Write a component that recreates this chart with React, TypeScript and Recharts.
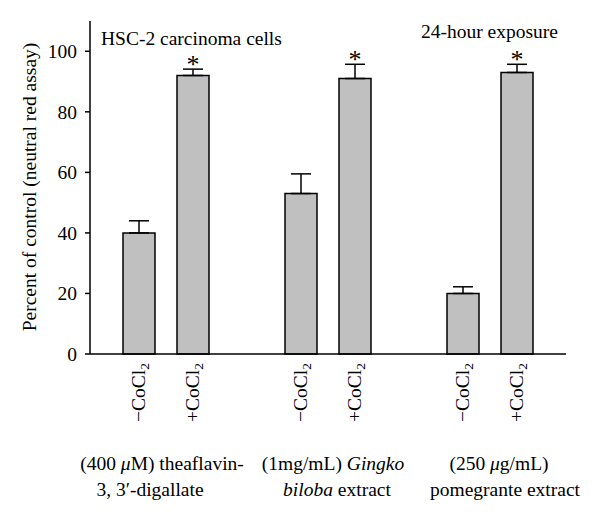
import React from "react";
import { ComposedChart, Bar, XAxis, YAxis, ErrorBar, Scatter } from "recharts";

// 8 slots on the x axis, two of them empty to split the three groups
const slots = ["tf-", "tf+", "gap1", "gb-", "gb+", "gap2", "pe-", "pe+"];
const tickSigns = ["\u2212", "+", "", "\u2212", "+", "", "\u2212", "+"];
const percentOfControl = [40, 92, null, 53, 91, null, 20, 93];
const errorUp = [4, 2.1, null, 6.5, 4.7, null, 2.2, 2.7];
const significant = [false, true, false, false, true, false, false, true];
const yTicks = [0, 20, 40, 60, 80, 100];

const FONT = "'Liberation Serif', 'DejaVu Serif', serif";
const FS = 19.5;

const data = slots.map((slot, i) => ({
  slot,
  sign: tickSigns[i],
  value: percentOfControl[i],
  err: errorUp[i] == null ? null : [0, errorUp[i]],
  star:
    significant[i] && percentOfControl[i] != null
      ? (percentOfControl[i] as number) + (errorUp[i] as number) + 2.8
      : null,
}));

const CoTick = (props: any) => {
  const { x, y, index } = props;
  const sign = tickSigns[index];
  if (!sign) return <g />;
  return (
    <text
      transform={`translate(${x + 6},${y + 1}) rotate(-90)`}
      textAnchor="end"
      fontSize={FS}
      fontFamily={FONT}
      fill="#000"
    >
      {sign}CoCl
      <tspan fontSize={13.5} dy={4}>
        2
      </tspan>
    </text>
  );
};

const StarShape = (props: any) => {
  const { cx, cy, payload } = props;
  if (!payload || payload.star == null || !isFinite(cy)) return <g />;
  return (
    <text x={cx} y={cy + 12} textAnchor="middle" fontSize={26} fontFamily={FONT} fill="#000">
      *
    </text>
  );
};

const txt = { fontFamily: FONT, fontSize: FS, fill: "#000" } as const;

export default function App() {
  return (
    <div style={{ position: "absolute", left: 0, top: 0, width: 600, height: 517, background: "#fff" }}>
      <ComposedChart
        width={600}
        height={517}
        data={data}
        margin={{ top: 21, right: 34, bottom: 93, left: 0 }}
      >
        <XAxis
          dataKey="slot"
          interval={0}
          padding={{ left: 22, right: 22 }}
          tickLine={false}
          tick={<CoTick />}
          height={70}
          axisLine={{ stroke: "#000", strokeWidth: 1.5 }}
        />
        <XAxis
          xAxisId="top"
          orientation="top"
          dataKey="slot"
          tick={false}
          tickLine={false}
          height={0}
          axisLine={{ stroke: "#000", strokeWidth: 1.5 }}
        />
        <YAxis
          domain={[0, 110]}
          ticks={yTicks}
          width={90}
          tickSize={5}
          tickLine={{ stroke: "#000", strokeWidth: 1.5 }}
          axisLine={{ stroke: "#000", strokeWidth: 1.5 }}
          tick={{ fontFamily: FONT, fontSize: FS, fill: "#000" }}
          tickMargin={8}
        />
        <YAxis
          yAxisId="right"
          orientation="right"
          domain={[0, 110]}
          width={0}
          tick={false}
          tickLine={false}
          axisLine={{ stroke: "#000", strokeWidth: 1.5 }}
        />
        <Bar
          dataKey="value"
          barSize={32}
          fill="#c0c0c0"
          stroke="#000"
          strokeWidth={1.5}
          isAnimationActive={false}
        >
          <ErrorBar dataKey="err" width={10} stroke="#000" strokeWidth={1.5} direction="y" />
        </Bar>
        <Scatter dataKey="star" shape={<StarShape />} isAnimationActive={false} />
      </ComposedChart>
      <svg
        width={600}
        height={517}
        style={{ position: "absolute", left: 0, top: 0, pointerEvents: "none" }}
      >
        <text x={101} y={45} {...txt}>HSC-2 carcinoma cells</text>
        <text x={558} y={38} textAnchor="end" {...txt}>24-hour exposure</text>
        <text transform="translate(36,187) rotate(-90)" textAnchor="middle" {...txt}>
          Percent of control (neutral red assay)
        </text>
        <text x={162} y={470} textAnchor="middle" {...txt}>
          (400 <tspan fontStyle="italic">μ</tspan>M) theaflavin-
        </text>
        <text x={150} y={496} textAnchor="middle" {...txt}>3, 3′-digallate</text>
        <text x={333} y={470} textAnchor="middle" {...txt}>
          (1mg/mL) <tspan fontStyle="italic">Gingko</tspan>
        </text>
        <text x={337} y={496} textAnchor="middle" {...txt}>
          <tspan fontStyle="italic">biloba</tspan> extract
        </text>
        <text x={499} y={470} textAnchor="middle" {...txt}>
          (250 <tspan fontStyle="italic">μ</tspan>g/mL)
        </text>
        <text x={505} y={496} textAnchor="middle" {...txt}>pomegrante extract</text>
      </svg>
    </div>
  );
}
